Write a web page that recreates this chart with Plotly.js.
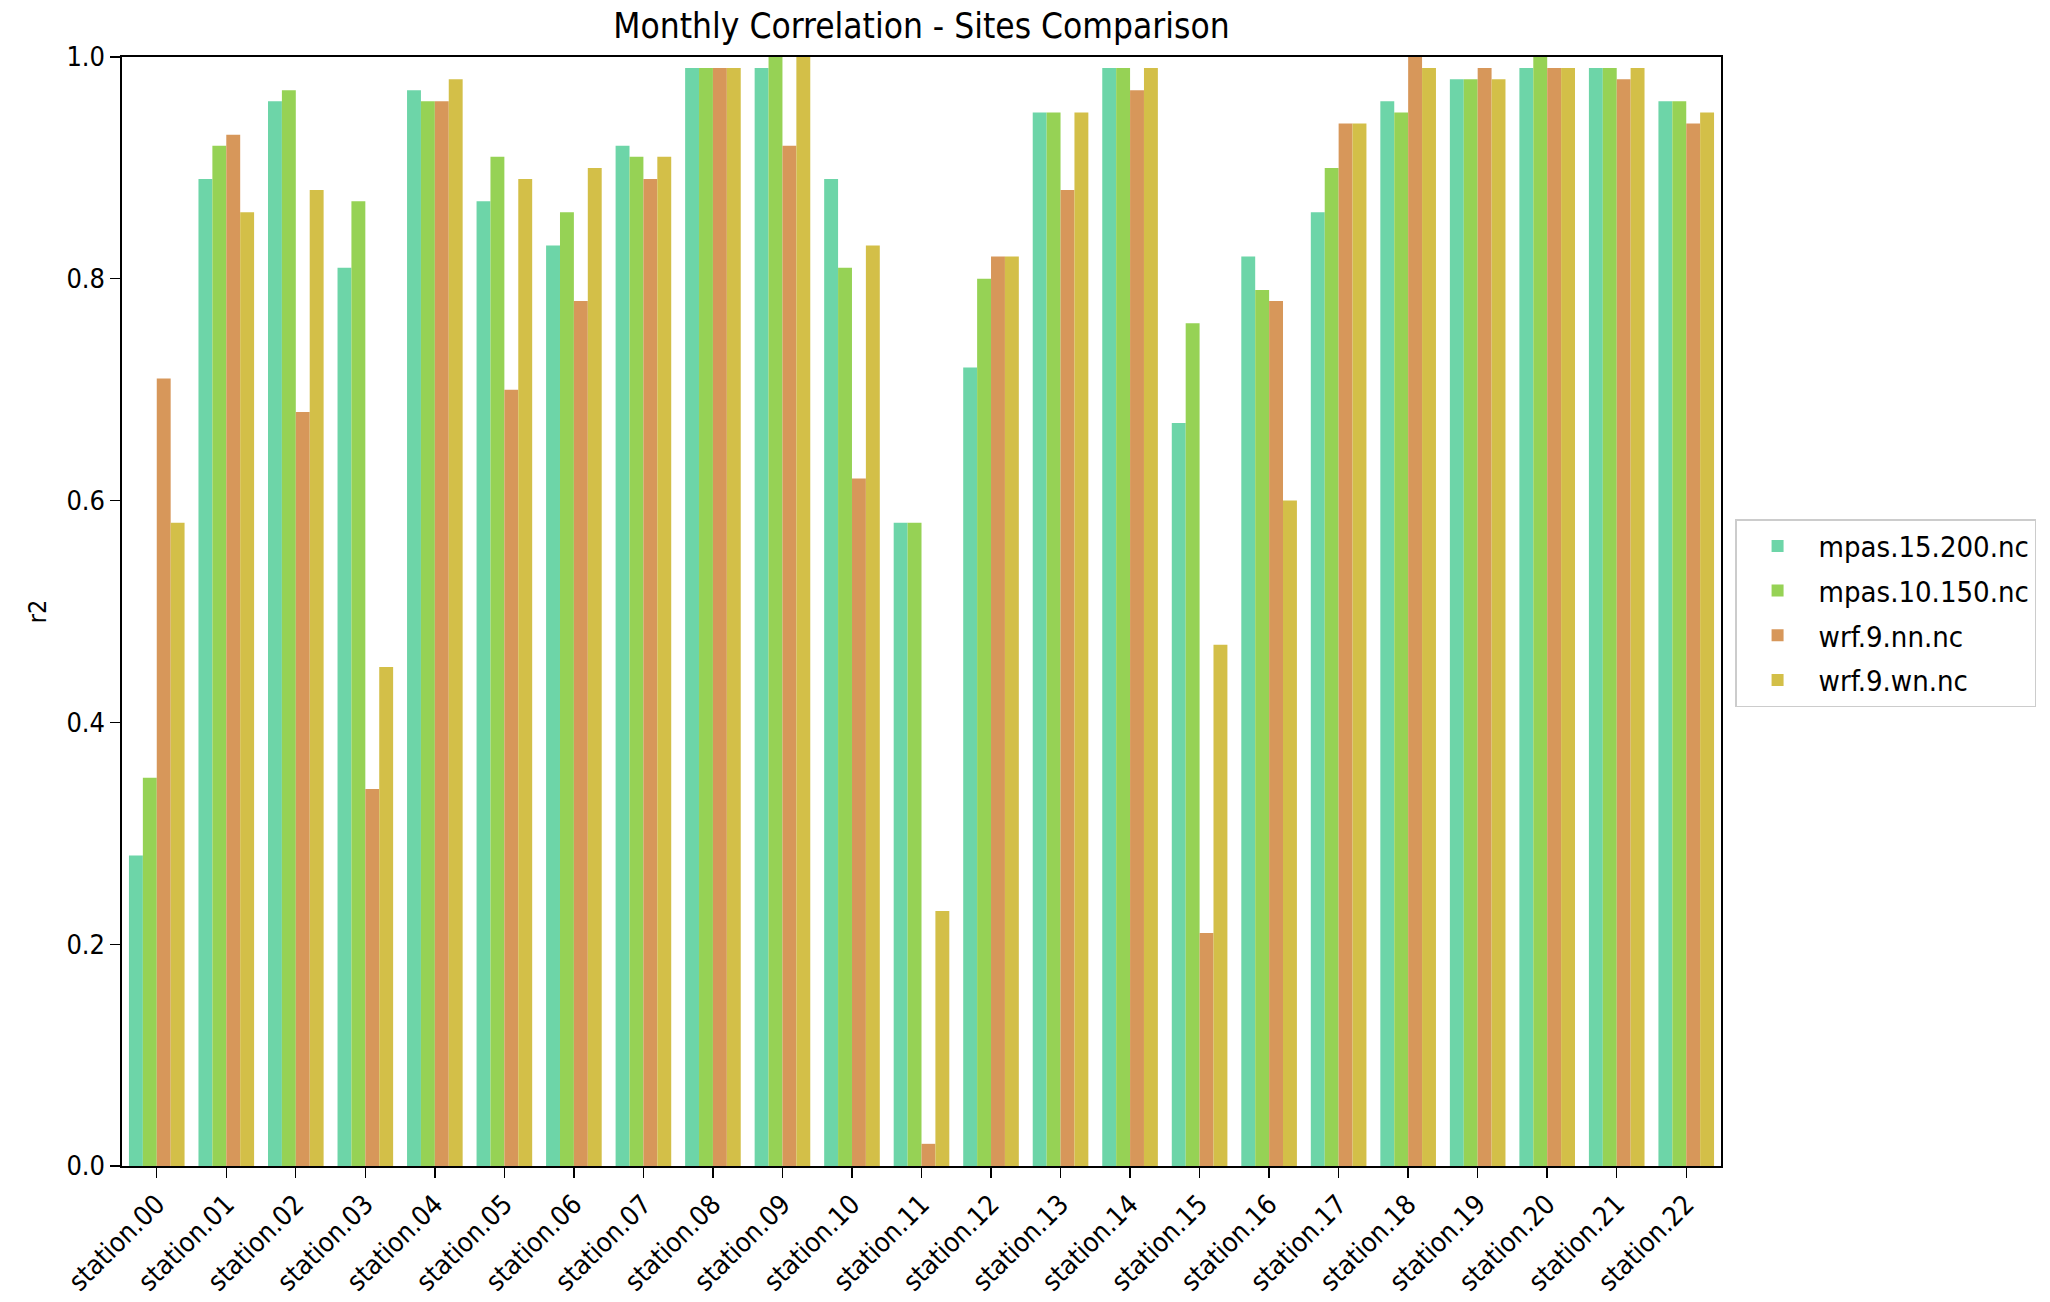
<!DOCTYPE html>
<html>
<head>
<meta charset="utf-8">
<script src="https://cdn.plot.ly/plotly-3.0.1.min.js"></script>
<style>html,body{margin:0;padding:0;background:#fff;}#chart{width:2050px;height:1302px;}</style>
</head>
<body>
<div id="chart"></div>
<script>
const stations = ["station.00","station.01","station.02","station.03","station.04","station.05","station.06","station.07","station.08","station.09","station.10","station.11","station.12","station.13","station.14","station.15","station.16","station.17","station.18","station.19","station.20","station.21","station.22"];
const seriesNames = ["mpas.15.200.nc","mpas.10.150.nc","wrf.9.nn.nc","wrf.9.wn.nc"];
const mpas15200 = [0.28,0.89,0.96,0.81,0.97,0.87,0.83,0.92,0.99,0.99,0.89,0.58,0.72,0.95,0.99,0.67,0.82,0.86,0.96,0.98,0.99,0.99,0.96];
const mpas10150 = [0.35,0.92,0.97,0.87,0.96,0.91,0.86,0.91,0.99,1.00,0.81,0.58,0.80,0.95,0.99,0.76,0.79,0.90,0.95,0.98,1.00,0.99,0.96];
const wrf9nn    = [0.71,0.93,0.68,0.34,0.96,0.70,0.78,0.89,0.99,0.92,0.62,0.02,0.82,0.88,0.97,0.21,0.78,0.94,1.00,0.99,0.99,0.98,0.94];
const wrf9wn    = [0.58,0.86,0.88,0.45,0.98,0.89,0.90,0.91,0.99,1.00,0.83,0.23,0.82,0.95,0.99,0.47,0.60,0.94,0.99,0.98,0.99,0.99,0.95];
const yTickVals = [0,0.2,0.4,0.6,0.8,1.0];
const yTickText = ["0.0","0.2","0.4","0.6","0.8","1.0"];
const colors = ["#6dd5a8","#96d255","#d7975a","#d3bf48"];
const values = [mpas15200, mpas10150, wrf9nn, wrf9wn];

const traces = values.map((v,i)=>({
  type:"bar", x:stations, y:v, name:seriesNames[i], legendgroup:"g"+i,
  marker:{color:colors[i], line:{width:0}}
}));

const font = "'DejaVu Sans Condensed', 'DejaVu Sans', sans-serif";
const layout = {
  width:2050, height:1302,
  paper_bgcolor:"#fff", plot_bgcolor:"#fff",
  margin:{l:122, r:329, t:57, b:136, pad:0},
  font:{family:font, size:26, color:"#000"},
  title:{text:"Monthly Correlation - Sites Comparison", font:{family:font, size:35, color:"#000"}, x:0.4495, xref:"container", xanchor:"center", y:1-26/1302, yref:"container", yanchor:"middle"},
  barmode:"group", bargap:0.2, bargroupgap:0,
  showlegend:true,
  legend:{x:1.0088, xanchor:"left", y:0.4986, yanchor:"middle", bgcolor:"#fff", bordercolor:"#cccccc", borderwidth:1.5, font:{family:font, size:29, color:"#000"}, traceorder:"grouped", tracegroupgap:4, itemwidth:72},
  xaxis:{
    range:[-0.5,22.5], showline:true, mirror:true, linecolor:"#000", linewidth:1.6,
    ticks:"outside", ticklen:10, tickwidth:1.4, tickcolor:"#000", tickangle:-45,
    showgrid:false, zeroline:false, tickfont:{family:font, size:27, color:"#000"}
  },
  yaxis:{
    range:[0,1], showline:true, mirror:true, linecolor:"#000", linewidth:1.6,
    ticks:"outside", ticklen:10, tickwidth:1.4, tickcolor:"#000",
    tickvals:yTickVals, ticktext:yTickText,
    showgrid:false, zeroline:false, tickfont:{family:font, size:27, color:"#000"},
    title:{text:"r2", font:{family:font, size:25, color:"#000"}, standoff:12}
  }
};
Plotly.newPlot("chart", traces, layout, {displayModeBar:false, staticPlot:true});
</script>
</body>
</html>
